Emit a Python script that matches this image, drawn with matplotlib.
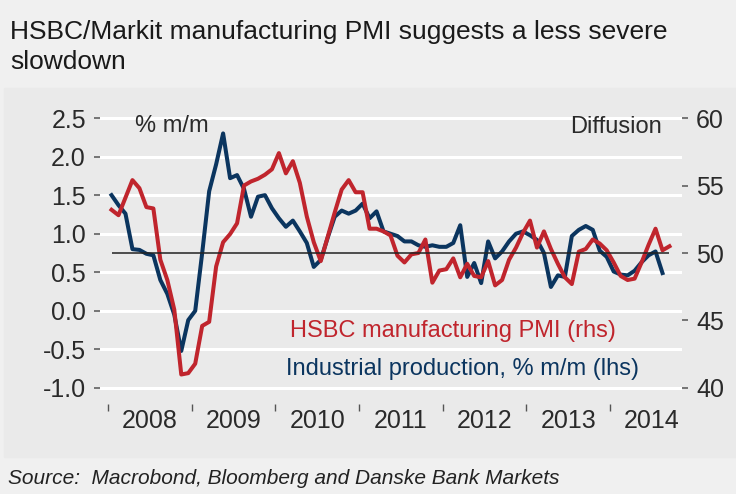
import numpy as np
import pandas as pd
import matplotlib
matplotlib.use("Agg")
import matplotlib.pyplot as plt
from matplotlib.patches import Rectangle

plt.rcParams['font.family'] = ['Liberation Sans', 'DejaVu Sans']

# HSBC/Markit manufacturing PMI, monthly Jan 2008 - Sep 2014 (rhs)
pmi = [53.2, 52.8, 54.1, 55.4, 54.8, 53.4, 53.3, 49.5, 48.0, 45.8, 41.0, 41.1,
       41.8, 44.6, 44.9, 49.0, 50.8, 51.4, 52.2, 55.0, 55.3, 55.5, 55.8, 56.2,
       57.4, 55.9, 56.8, 55.2, 52.7, 50.8, 49.4, 51.2, 53.0, 54.7, 55.4, 54.5,
       54.5, 51.8, 51.8, 51.6, 51.3, 49.8, 49.3, 49.9, 50.0, 51.0, 47.8, 48.7,
       48.8, 49.6, 48.2, 49.2, 48.3, 48.2, 49.4, 47.6, 48.0, 49.5, 50.4, 51.5,
       52.4, 50.4, 51.6, 50.3, 49.2, 48.2, 47.7, 50.1, 50.3, 51.0, 50.7, 50.2,
       49.3, 48.3, 48.0, 48.1, 49.3, 50.6, 51.8, 50.2, 50.5]

# Industrial production, % m/m, monthly Jan 2008 - Aug 2014 (lhs)
ip = [1.50, 1.37, 1.26, 0.80, 0.79, 0.74, 0.72, 0.40, 0.22, -0.05, -0.52, -0.12,
      0.00, 0.75, 1.55, 1.90, 2.30, 1.72, 1.76, 1.58, 1.22, 1.48, 1.50, 1.33,
      1.20, 1.09, 1.17, 1.03, 0.88, 0.57, 0.66, 0.95, 1.22, 1.30, 1.26, 1.30,
      1.39, 1.20, 1.29, 1.03, 1.00, 0.97, 0.90, 0.90, 0.85, 0.83, 0.85, 0.83,
      0.83, 0.88, 1.11, 0.44, 0.62, 0.36, 0.90, 0.68, 0.77, 0.90, 1.00, 1.03,
      0.98, 0.92, 0.75, 0.31, 0.46, 0.44, 0.97, 1.05, 1.10, 1.05, 0.78, 0.70,
      0.51, 0.47, 0.46, 0.52, 0.63, 0.72, 0.77, 0.49]

years = [2008, 2009, 2010, 2011, 2012, 2013, 2014]
left_ticks = [-1.0, -0.5, 0.0, 0.5, 1.0, 1.5, 2.0, 2.5]
right_ticks = [40, 45, 50, 55, 60]

# mid-month positions in decimal years
d_pmi = pd.date_range('2008-01-01', periods=len(pmi), freq='MS')
x_pmi = d_pmi.year + (d_pmi.month - 0.5) / 12
d_ip = pd.date_range('2008-01-01', periods=len(ip), freq='MS')
x_ip = d_ip.year + (d_ip.month - 0.5) / 12

red = '#C0252D'
blue = '#0B355F'
txt = '#2A2A2A'

W, H = 736, 494
fig = plt.figure(figsize=(W / 100, H / 100), dpi=100, facecolor='#F0F0F0')

# grey chart panel
fig.add_artist(Rectangle((4 / W, 1 - 457 / H), 1, (457 - 88) / H,
                         transform=fig.transFigure, color='#EAEAEA', zorder=-1))

ax = fig.add_axes([100 / W, 1 - 390 / H, 582 / W, 274 / H])
ax.patch.set_visible(False)
for s in ax.spines.values():
    s.set_visible(False)
ax.spines['bottom'].set_position(('outward', 10))

ax.set_xlim(2007.904, 2014.858)
ax.set_ylim(-1.026, 2.526)
ax.set_yticks(left_ticks)
ax.set_yticklabels(['%.1f' % v for v in left_ticks])
ax.yaxis.grid(True, color='white', lw=2.2)
ax.set_axisbelow(True)

ax.set_xticks(years)
ax.set_xticklabels([])
ax.set_xticks([y + 0.5 for y in years], minor=True)
ax.set_xticklabels([str(y) for y in years], minor=True)
ax.tick_params(axis='x', which='major', length=5, width=1, color='#555555', direction='out')
ax.tick_params(axis='x', which='minor', length=0, pad=4, labelsize=18, labelcolor=txt)
ax.tick_params(axis='y', length=4.3, width=1.1, color='#555555', pad=5.8,
               labelsize=18, labelcolor=txt)

ax.plot(x_ip, ip, color=blue, lw=2.9, solid_joinstyle='round', zorder=3)

ax2 = ax.twinx()
for s in ax2.spines.values():
    s.set_visible(False)
ax2.set_ylim(40 + (-0.026) * 20 / 3.5, 60 + 0.026 * 20 / 3.5)
ax2.set_yticks(right_ticks)
ax2.tick_params(axis='y', length=4.3, width=1.1, color='#555555', pad=5.8,
                labelsize=18, labelcolor=txt)
ax2.plot(x_pmi, pmi, color=red, lw=2.9, solid_joinstyle='round', zorder=3)
ax2.hlines(50, x_pmi[0], x_pmi[-1], color='#222222', lw=1.1, zorder=4)

ax.text(0.060, 0.964, '% m/m', transform=ax.transAxes, fontsize=17,
        color=txt, ha='left', va='center')
ax.text(0.9656, 0.960, 'Diffusion', transform=ax.transAxes, fontsize=17,
        color=txt, ha='right', va='center')
ax.text(0.326, 0.215, 'HSBC manufacturing PMI (rhs)', transform=ax.transAxes,
        fontsize=17, color=red, ha='left', va='center')
ax.text(0.320, 0.077, 'Industrial production, % m/m (lhs)', transform=ax.transAxes,
        fontsize=17, color=blue, ha='left', va='center')

fig.text(10 / W, 1 - 39 / H, 'HSBC/Markit manufacturing PMI suggests a less severe',
         fontsize=19, color='#1A1A1A', va='baseline')
fig.text(10 / W, 1 - 69 / H, 'slowdown', fontsize=19, color='#1A1A1A', va='baseline')
fig.text(8 / W, 1 - 478 / H, 'Source:  Macrobond, Bloomberg and Danske Bank Markets',
         fontsize=15, style='italic', color='#222222', va='center')

fig.savefig('out.png', dpi=100, facecolor=fig.get_facecolor())
